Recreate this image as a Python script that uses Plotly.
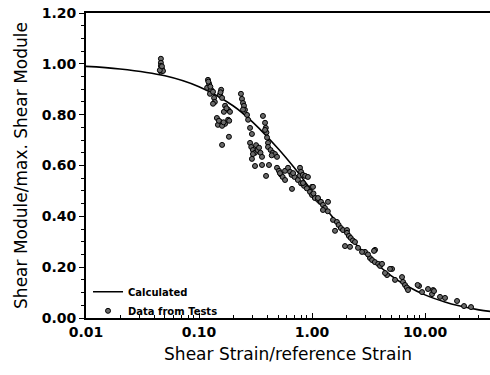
import plotly.graph_objects as go

# Calculated curve
calc_x = [0.01, 0.02, 0.05, 0.1, 0.2, 0.3, 0.5, 0.7, 1.0, 1.5, 2.0, 3.0, 5.0, 7.0, 10.0, 15.0, 20.0, 30.0, 38.0]
calc_y = [0.99, 0.98, 0.953, 0.91, 0.835, 0.77, 0.667, 0.59, 0.50, 0.40, 0.333, 0.25, 0.167, 0.125, 0.091, 0.063, 0.048, 0.032, 0.026]

# Data from tests
test_x = [
    0.046, 0.046, 0.046, 0.047, 0.046, 0.048, 0.045, 0.047,
    0.120, 0.123, 0.118, 0.128, 0.125, 0.133, 0.121, 0.126,
    0.136, 0.138, 0.133, 0.157, 0.153, 0.160, 0.155,
    0.170, 0.181, 0.188, 0.166, 0.175,
    0.144, 0.153, 0.170, 0.147, 0.181, 0.160, 0.150, 0.165, 0.185,
    0.160, 0.184,
    0.235, 0.240, 0.245, 0.250, 0.255, 0.245, 0.266, 0.272, 0.283, 0.294, 0.368,
    0.384, 0.390, 0.395, 0.400, 0.408, 0.384,
    0.283, 0.290, 0.300, 0.313, 0.330, 0.350, 0.361, 0.300, 0.320, 0.340,
    0.294, 0.313, 0.361, 0.416, 0.392,
    0.408, 0.430, 0.450, 0.470, 0.490, 0.440,
    0.490, 0.510, 0.530, 0.550, 0.577, 0.520, 0.577,
    0.613, 0.640, 0.660, 0.700, 0.750, 0.800, 0.850, 0.900, 0.680, 0.780,
    0.665, 1.000,
    0.783, 0.800, 0.830, 0.870, 0.920, 0.832, 1.020,
    0.960, 1.000, 1.060, 1.130, 1.180, 1.030,
    1.130, 1.200, 1.250, 1.300, 1.380, 1.250, 1.385,
    1.534, 1.660, 1.720, 1.800, 1.880, 1.598, 2.040,
    2.040, 2.120, 2.200, 2.300, 2.400,
    1.959, 2.169, 2.554, 2.944, 3.610, 3.260, 2.770, 3.130,
    3.538, 3.400, 3.600, 3.850, 4.000, 4.164, 5.105, 4.610, 4.900, 4.426,
    5.427, 6.259, 6.389, 6.650, 6.900, 7.073, 8.850, 8.600, 9.408,
    10.63, 11.53, 11.80, 12.01, 13.57, 15.03, 19.20, 22.14, 25.54,
]
test_y = [
    1.020, 1.004, 0.992, 0.980, 0.969, 0.972, 0.975, 0.990,
    0.937, 0.921, 0.906, 0.898, 0.882, 0.890, 0.930, 0.910,
    0.866, 0.850, 0.843, 0.898, 0.878, 0.866, 0.888,
    0.835, 0.819, 0.811, 0.811, 0.825,
    0.787, 0.772, 0.764, 0.760, 0.780, 0.756, 0.776, 0.770, 0.776,
    0.681, 0.713,
    0.882, 0.862, 0.846, 0.835, 0.819, 0.820, 0.799, 0.780, 0.748, 0.724, 0.795,
    0.768, 0.748, 0.730, 0.710, 0.689, 0.740,
    0.689, 0.673, 0.661, 0.650, 0.661, 0.650, 0.634, 0.645, 0.680, 0.670,
    0.626, 0.598, 0.602, 0.602, 0.559,
    0.673, 0.661, 0.650, 0.645, 0.634, 0.640,
    0.591, 0.579, 0.565, 0.555, 0.543, 0.570, 0.579,
    0.591, 0.575, 0.563, 0.555, 0.543, 0.530, 0.520, 0.510, 0.570, 0.560,
    0.508, 0.516,
    0.591, 0.575, 0.563, 0.559, 0.555, 0.531, 0.516,
    0.496, 0.484, 0.472, 0.465, 0.457, 0.490,
    0.472, 0.457, 0.445, 0.433, 0.420, 0.425, 0.457,
    0.386, 0.378, 0.366, 0.354, 0.346, 0.343, 0.346,
    0.335, 0.323, 0.315, 0.305, 0.299,
    0.283, 0.280, 0.276, 0.260, 0.268, 0.236, 0.260, 0.250,
    0.264, 0.228, 0.220, 0.213, 0.205, 0.213, 0.193, 0.169, 0.193, 0.177,
    0.150, 0.161, 0.142, 0.130, 0.120, 0.110, 0.126, 0.130, 0.102,
    0.114, 0.094, 0.110, 0.106, 0.083, 0.079, 0.067, 0.047, 0.043,
]

x_tickvals = [0.01, 0.1, 1, 10]
x_ticktext = ["0.01", "0.10", "1.00", "10.00"]
y_tickvals = [0, 0.2, 0.4, 0.6, 0.8, 1.0, 1.2]
y_ticktext = ["0.00", "0.20", "0.40", "0.60", "0.80", "1.00", "1.20"]

FONT = "DejaVu Sans"

fig = go.Figure()
fig.add_trace(go.Scatter(
    x=calc_x, y=calc_y, mode="lines", name="Calculated",
    line=dict(color="black", width=1.6, shape="spline"),
))
fig.add_trace(go.Scatter(
    x=test_x, y=test_y, mode="markers", name="Data from Tests",
    marker=dict(size=5, color="#6a6a6a", line=dict(color="black", width=1)),
))

fig.update_layout(
    width=490, height=375,
    margin=dict(l=86, r=0, t=13, b=57),
    paper_bgcolor="white", plot_bgcolor="white",
    showlegend=True,
    legend=dict(
        x=0.005, y=-0.024, xanchor="left", yanchor="bottom",
        bgcolor="rgba(0,0,0,0)", font=dict(family=FONT, size=10, color="black", weight="bold"),
        tracegroupgap=0, itemwidth=30,
    ),
    xaxis=dict(
        type="log", range=[-2, 1.575],
        tickvals=x_tickvals, ticktext=x_ticktext,
        ticks="inside", ticklen=5, tickwidth=1.2, tickcolor="black",
        minor=dict(dtick="D1", ticks="inside", ticklen=3, tickcolor="black", tickwidth=1),
        showline=True, linecolor="black", linewidth=2, mirror=True,
        showgrid=False, zeroline=False,
        tickfont=dict(family=FONT, size=14, color="black", weight="bold"),
        title=dict(text="Shear Strain/reference Strain", font=dict(family=FONT, size=17, color="black"), standoff=9),
    ),
    yaxis=dict(
        range=[0, 1.2],
        tickvals=y_tickvals, ticktext=y_ticktext,
        ticks="outside", ticklen=5, tickwidth=1.2, tickcolor="black",
        minor=dict(dtick=0.05, ticks="outside", ticklen=3, tickcolor="black", tickwidth=1),
        showline=True, linecolor="black", linewidth=2, mirror=False,
        showgrid=False, zeroline=False,
        tickfont=dict(family=FONT, size=14, color="black", weight="bold"),
        title=dict(text="Shear Module/max. Shear Module", font=dict(family=FONT, size=17, color="black"), standoff=10),
    ),
)

fig.write_html("out.html")
